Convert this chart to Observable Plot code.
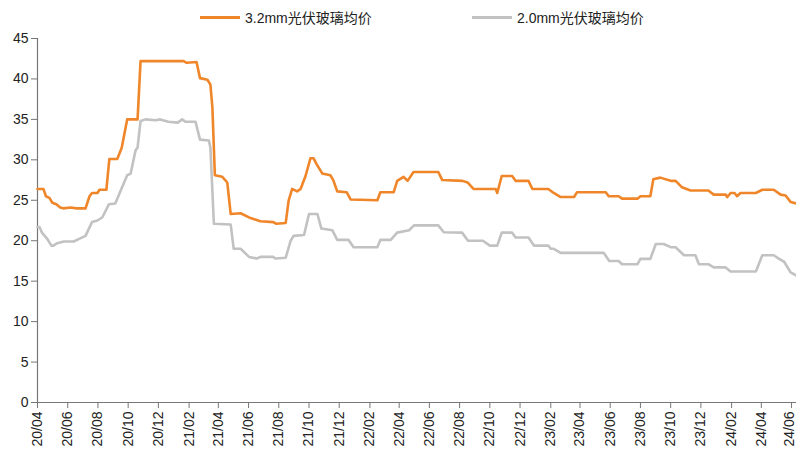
<!DOCTYPE html>
<html>
<head>
<meta charset="utf-8">
<script src="https://cdn.jsdelivr.net/npm/d3@7"></script>
<script src="https://cdn.jsdelivr.net/npm/@observablehq/plot@0.6"></script>
<style>
  html, body { margin: 0; padding: 0; background: #fff; }
  body { width: 796px; height: 453px; overflow: hidden; font-family: "Liberation Sans", Arial, "Noto Sans CJK SC", sans-serif; }
  #legend { position: relative; height: 30px; font-size: 14px; color: #222; }
  .item { position: absolute; top: 7px; display: flex; align-items: center; white-space: nowrap; }
  .sw { width: 40px; height: 3px; margin-right: 5px; }
</style>
</head>
<body>
<div id="legend"></div>
<div id="chart"></div>
<script>
// Series names
const seriesNames = ["3.2mm光伏玻璃均价", "2.0mm光伏玻璃均价"];

// 3.2mm series (change points)
const dates32 = [
  "2020-04-01","2020-04-13","2020-04-18","2020-04-25","2020-05-01","2020-05-09","2020-05-17","2020-05-23",
  "2020-06-07","2020-06-19","2020-07-07","2020-07-15","2020-07-20","2020-07-31","2020-08-04","2020-08-18",
  "2020-08-24","2020-09-09","2020-09-18","2020-09-29","2020-10-20","2020-10-26","2021-01-21","2021-01-27",
  "2021-02-16","2021-02-23","2021-03-10","2021-03-16","2021-03-20","2021-03-25","2021-04-09","2021-04-19",
  "2021-04-26","2021-05-16","2021-06-05","2021-06-25","2021-07-21","2021-07-27","2021-08-15","2021-08-21",
  "2021-08-28","2021-09-07","2021-09-14","2021-09-24","2021-10-04","2021-10-10","2021-10-16","2021-10-28",
  "2021-11-13","2021-11-19","2021-11-27","2021-12-16","2021-12-24","2022-02-16","2022-02-22","2022-03-21",
  "2022-03-28","2022-04-10","2022-04-18","2022-04-30","2022-06-19","2022-06-27","2022-08-07","2022-08-17",
  "2022-08-29","2022-10-13","2022-10-16","2022-10-25","2022-11-15","2022-11-22","2022-12-18","2022-12-26",
  "2023-01-27","2023-02-07","2023-02-21","2023-03-20","2023-03-26","2023-05-23","2023-05-29","2023-06-18",
  "2023-06-25","2023-07-26","2023-08-01","2023-08-21","2023-08-27","2023-09-10","2023-10-01","2023-10-11",
  "2023-10-24","2023-11-10","2023-12-16","2023-12-27","2024-01-20","2024-01-23","2024-01-30","2024-02-07",
  "2024-02-12","2024-02-19","2024-03-21","2024-04-03","2024-04-26","2024-05-10","2024-05-20","2024-05-30",
  "2024-06-11"
];
const values32 = [
  26.4,26.4,25.5,25.3,24.7,24.5,24.1,24.0,
  24.1,24.0,24.0,25.5,25.9,25.9,26.3,26.3,
  30.1,30.1,31.5,35.0,35.0,42.2,42.2,42.0,
  42.1,40.1,39.9,39.3,36.5,28.1,27.9,27.2,
  23.3,23.4,22.8,22.4,22.3,22.1,22.2,25.0,
  26.4,26.1,26.4,28.0,30.2,30.2,29.5,28.3,
  28.1,27.5,26.1,26.0,25.1,25.0,26.0,26.0,
  27.4,27.9,27.4,28.5,28.5,27.5,27.4,27.2,
  26.4,26.4,25.9,28.0,28.0,27.4,27.4,26.4,
  26.4,25.9,25.4,25.4,26.0,26.0,25.5,25.5,
  25.2,25.2,25.5,25.5,27.6,27.8,27.4,27.4,
  26.6,26.2,26.2,25.7,25.7,25.4,25.9,25.9,
  25.5,25.9,25.9,26.3,26.3,25.7,25.6,24.8,
  24.6
];

// 2.0mm series (change points)
const dates20 = [
  "2020-04-01","2020-04-05","2020-04-10","2020-04-21","2020-04-29","2020-05-03","2020-05-11","2020-05-24",
  "2020-06-13","2020-06-23","2020-07-07","2020-07-20","2020-07-31","2020-08-10","2020-08-23","2020-09-05",
  "2020-09-16","2020-09-29","2020-10-06","2020-10-16","2020-10-20","2020-10-26","2020-11-05","2020-11-25",
  "2020-12-05","2020-12-21","2021-01-09","2021-01-18","2021-01-25","2021-02-14","2021-02-23","2021-03-13",
  "2021-03-16","2021-03-23","2021-04-26","2021-05-02","2021-05-16","2021-06-02","2021-06-18","2021-06-25",
  "2021-07-21","2021-07-25","2021-08-15","2021-08-25","2021-08-31","2021-09-21","2021-10-01","2021-10-18",
  "2021-10-26","2021-11-17","2021-11-27","2021-12-20","2021-12-30","2022-02-16","2022-02-22","2022-03-15",
  "2022-03-28","2022-04-21","2022-05-01","2022-06-19","2022-06-30","2022-08-06","2022-08-18","2022-09-17",
  "2022-10-01","2022-10-16","2022-10-25","2022-11-15","2022-11-22","2022-12-18","2022-12-29","2023-01-27",
  "2023-02-01","2023-02-07","2023-02-21","2023-05-19","2023-05-30","2023-06-18","2023-06-25","2023-07-26",
  "2023-08-01","2023-08-21","2023-09-01","2023-09-17","2023-10-01","2023-10-11","2023-10-28","2023-11-20",
  "2023-11-27","2023-12-16","2023-12-27","2024-01-20","2024-01-30","2024-03-21","2024-04-03","2024-04-26",
  "2024-05-07","2024-05-17","2024-05-30","2024-06-11"
];
const values20 = [
  21.7,21.7,21.0,20.2,19.4,19.4,19.7,19.9,
  19.9,20.2,20.6,22.3,22.5,22.9,24.5,24.6,
  26.2,28.1,28.3,31.2,31.5,34.8,35.0,34.9,
  35.0,34.7,34.6,35.0,34.7,34.7,32.5,32.4,
  31.5,22.1,22.0,19.0,19.0,18.0,17.8,18.0,
  18.0,17.8,17.9,20.0,20.6,20.7,23.3,23.3,
  21.5,21.3,20.1,20.1,19.2,19.2,20.1,20.1,
  21.0,21.3,21.9,21.9,21.05,21.0,20.0,20.0,
  19.4,19.4,21.0,21.0,20.4,20.4,19.4,19.4,
  19.0,19.0,18.5,18.5,17.5,17.5,17.1,17.1,
  17.75,17.75,19.6,19.6,19.2,19.2,18.2,18.2,
  17.1,17.1,16.7,16.7,16.2,16.2,18.2,18.2,
  17.75,17.4,16.1,15.7
];

// Axis ticks
const xTickLabels = ["20/04","20/06","20/08","20/10","20/12","21/02","21/04","21/06","21/08","21/10","21/12",
  "22/02","22/04","22/06","22/08","22/10","22/12","23/02","23/04","23/06","23/08","23/10","23/12",
  "24/02","24/04","24/06"];
const yTicks = [0,5,10,15,20,25,30,35,40,45];
const xStart = "2020-04-01", xEnd = "2024-06-11";

const colors = ["#F0862A", "#C2C2C2"];

const parse = d3.utcParse("%Y-%m-%d");
const parseTick = d3.utcParse("%y/%m");
const data32 = dates32.map((d, i) => ({date: parse(d), value: values32[i]}));
const data20 = dates20.map((d, i) => ({date: parse(d), value: values20[i]}));
const tickDates = xTickLabels.map(parseTick);
const lastTick = tickDates[tickDates.length - 1];
const fmt = d3.utcFormat("%y/%m");

// Legend
const legend = document.getElementById("legend");
const legendLeft = [200, 472];
seriesNames.forEach((name, i) => {
  const it = document.createElement("div");
  it.className = "item";
  it.style.left = legendLeft[i] + "px";
  it.innerHTML = `<span class="sw" style="background:${colors[i]}"></span><span>${name}</span>`;
  legend.appendChild(it);
});

const chart = Plot.plot({
  width: 796,
  height: 423,
  marginLeft: 37,
  marginRight: 0,
  marginTop: 8,
  marginBottom: 51,
  style: {fontFamily: '"Liberation Sans", Arial, "Noto Sans CJK SC", sans-serif', fontSize: "14px", color: "#222", background: "#fff"},
  x: {type: "utc", domain: [parse(xStart), parse(xEnd)]},
  y: {domain: [0, 45]},
  marks: [
    Plot.axisY({ticks: yTicks, tickSize: 6, tickPadding: 3, label: null, stroke: "#777", fontSize: 14}),
    Plot.axisX({ticks: tickDates, tickFormat: d => (+d === +lastTick ? "" : fmt(d)), tickRotate: -90, tickSize: 6, tickPadding: 3, label: null, stroke: "#777", fontSize: 14}),
    Plot.axisX({ticks: [lastTick], tickFormat: fmt, tickRotate: -90, tickSize: 0, tickPadding: 9, dx: -2.5, label: null, fontSize: 14}),
    Plot.ruleY([0], {stroke: "#777", strokeWidth: 1.2}),
    Plot.ruleX([parse(xStart)], {y1: 0, y2: 45, stroke: "#777", strokeWidth: 1.2}),
    Plot.lineY(data20, {x: "date", y: "value", stroke: colors[1], strokeWidth: 2.6, curve: "linear"}),
    Plot.lineY(data32, {x: "date", y: "value", stroke: colors[0], strokeWidth: 2.6, curve: "linear"})
  ]
});
document.getElementById("chart").appendChild(chart);
</script>
</body>
</html>
